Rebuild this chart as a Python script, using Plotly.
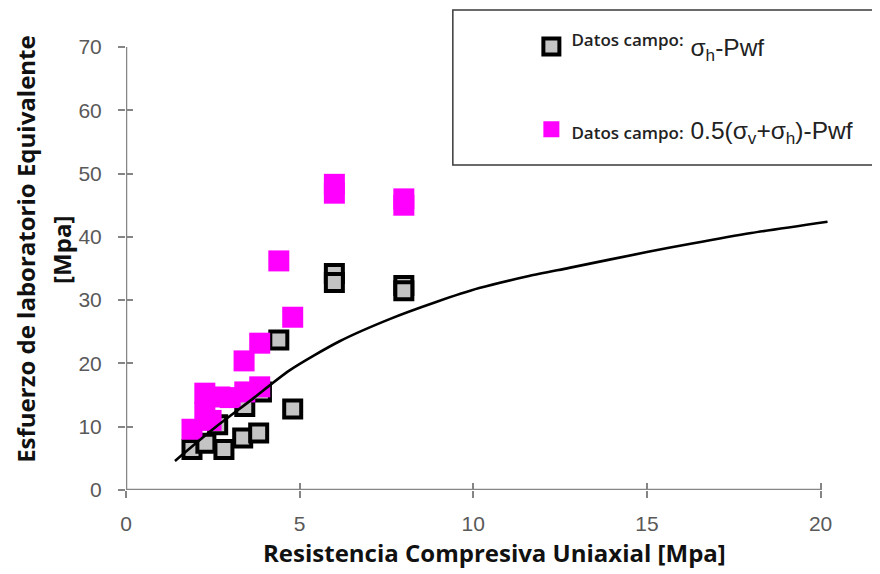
import plotly.graph_objects as go

# --- data ---
sh_x = [1.9, 2.3, 2.82, 3.36, 3.82, 2.64, 3.42, 3.9, 4.8, 4.4, 6.0, 6.0, 8.0, 8.0]
sh_y = [6.4, 7.4, 6.4, 8.2, 9.0, 10.3, 13.2, 15.5, 12.8, 23.7, 34.2, 32.8, 32.3, 31.5]

mix_x = [1.9, 2.27, 2.45, 2.27, 2.7, 3.0, 3.42, 3.85, 3.4, 3.85, 4.8, 4.4, 6.0, 6.0, 8.0, 8.0]
mix_y = [9.6, 12.2, 11.0, 15.3, 14.7, 14.6, 15.5, 16.3, 20.4, 23.2, 27.3, 36.2, 48.3, 46.9, 46.0, 45.0]

curve_x = [1.41, 2.5, 3.6, 4.71, 6.15, 7.59, 8.93, 10.17, 11.6, 12.76, 15.0, 16.3, 18.0, 20.2]
curve_y = [4.6, 9.6, 14.2, 18.9, 23.5, 27.0, 29.7, 31.9, 33.8, 35.1, 37.6, 38.95, 40.6, 42.4]

x_ticks = [0, 5, 10, 15, 20]
y_ticks = [0, 10, 20, 30, 40, 50, 60, 70]

lab_font = "font-family:Open Sans;font-weight:600"
name_sh = ("<sup><span style='font-size:17px;%s'>Datos campo:</span></sup> "
           "σ<sub>h</sub>-Pwf" % lab_font)
name_mix = ("<span style='font-size:17px;%s'>Datos campo:</span>"
            " 0.5(σ<sub>v</sub>+σ<sub>h</sub>)-Pwf" % lab_font)

AX = "#858585"

fig = go.Figure()
fig.add_trace(go.Scatter(
    x=sh_x, y=sh_y, mode="markers", name=name_sh, legendgroup="a",
    marker=dict(symbol="square", size=17, color="#c4c4c4",
                line=dict(color="black", width=4)),
    cliponaxis=False))
fig.add_trace(go.Scatter(
    x=mix_x, y=mix_y, mode="markers", name=name_mix, legendgroup="b",
    marker=dict(symbol="square", size=21, color="#ff00ff", line=dict(width=0)),
    cliponaxis=False))
fig.add_trace(go.Scatter(
    x=curve_x, y=curve_y, mode="lines", showlegend=False,
    line=dict(color="black", width=2.6, shape="spline", smoothing=0.7)))
# dummy trace for the overlay axes (inside half of crossing ticks)
fig.add_trace(go.Scatter(x=[None], y=[None], xaxis="x2", yaxis="y2",
                         showlegend=False, hoverinfo="skip"))

tickfont = dict(family="Liberation Sans", size=21, color="#595959")
fig.update_layout(
    width=880, height=574,
    margin=dict(l=118, r=57, t=39, b=92),
    paper_bgcolor="white", plot_bgcolor="white",
    showlegend=True,
    xaxis=dict(range=[0, 20.3], tickvals=x_ticks, ticks="outside", ticklen=7,
               tickwidth=2, tickcolor=AX, showline=False, showgrid=False,
               zeroline=False, tickfont=tickfont, ticklabelstandoff=8),
    yaxis=dict(range=[0, 70], tickvals=y_ticks, ticks="outside", ticklen=7,
               tickwidth=2, tickcolor=AX, showline=False, showgrid=False,
               zeroline=False, tickfont=tickfont, ticklabelstandoff=12),
    xaxis2=dict(range=[0, 20.3], tickvals=x_ticks, ticks="inside", ticklen=7,
                tickwidth=2, tickcolor=AX, overlaying="x", anchor="y2",
                showticklabels=False, showgrid=False, zeroline=False, showline=False),
    yaxis2=dict(range=[0, 70], tickvals=y_ticks, ticks="inside", ticklen=7,
                tickwidth=2, tickcolor=AX, overlaying="y", anchor="x2",
                showticklabels=False, showgrid=False, zeroline=False, showline=False),
    legend=dict(x=0.575, y=1.052, xanchor="left", yanchor="top",
                bgcolor="rgba(0,0,0,0)", borderwidth=0,
                font=dict(family="Liberation Sans", size=24.5, color="#222222"),
                traceorder="grouped", tracegroupgap=48, itemsizing="trace"),
)

# axis lines (0..20 and 0..70)
fig.add_shape(type="line", xref="x", yref="y", x0=0, x1=x_ticks[-1], y0=0, y1=0,
              line=dict(color=AX, width=2.5), layer="below")
fig.add_shape(type="line", xref="x", yref="y", x0=0, x1=0, y0=0, y1=y_ticks[-1],
              line=dict(color=AX, width=2.5), layer="below")
# legend frame
fig.add_shape(type="rect", xref="paper", yref="paper",
              x0=0.4636, x1=1.0604, y0=0.7336, y1=1.0835,
              line=dict(color="#3a3a3a", width=1.5), fillcolor="rgba(0,0,0,0)")

titlefont = dict(family="Open Sans", size=24, color="#111111", weight="bold")
fig.add_annotation(text="Esfuerzo de laboratorio Equivalente", xref="paper", yref="paper",
                   x=-0.1435, y=0.544, textangle=-90, showarrow=False, font=titlefont,
                   xanchor="center", yanchor="middle")
fig.add_annotation(text="[Mpa]", xref="paper", yref="paper",
                   x=-0.0908, y=0.542, textangle=-90, showarrow=False, font=titlefont,
                   xanchor="center", yanchor="middle")
fig.add_annotation(text="Resistencia Compresiva Uniaxial [Mpa]", xref="paper", yref="paper",
                   x=0.522, y=-0.142, showarrow=False, font=titlefont,
                   xanchor="center", yanchor="middle")

fig.write_html("out.html")
